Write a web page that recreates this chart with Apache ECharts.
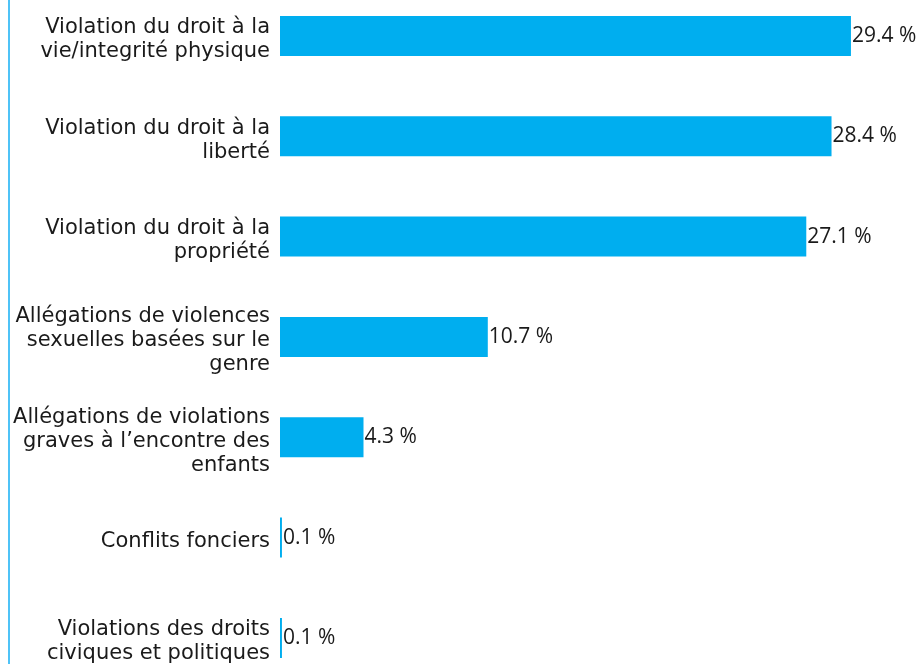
<!DOCTYPE html>
<html>
<head>
<meta charset="utf-8">
<script src="https://cdn.jsdelivr.net/npm/echarts@6/dist/echarts.min.js"></script>
<style>
  html, body { margin: 0; padding: 0; background: #fff; }
  #chart { width: 917px; height: 664px; }
</style>
</head>
<body>
<div id="chart"></div>
<script>
// catégories (retours à la ligne comme dans l'original)
var categories = [
    'Violation du droit à la\nvie/integrité physique',
    'Violation du droit à la\nliberté',
    'Violation du droit à la\npropriété',
    'Allégations de violences\nsexuelles basées sur le\ngenre',
    'Allégations de violations\ngraves à l\u2019encontre des\nenfants',
    'Conflits fonciers',
    'Violations des droits\nciviques et politiques'
];
var values = [29.4, 28.4, 27.1, 10.7, 4.3, 0.1, 0.1];

var myChart = echarts.init(document.getElementById('chart'));

var option = {
    backgroundColor: '#ffffff',
    animation: false,
    grid: {
        left: 280,
        top: -14.2,
        width: 582.6,
        bottom: -24.1,
        containLabel: false,
        outerBoundsMode: 'none'
    },
    // trait vertical à gauche
    graphic: [{
        type: 'line',
        shape: { x1: 9, y1: 0, x2: 9, y2: 664 },
        style: { stroke: '#4fc3f7', lineWidth: 2 }
    }],
    xAxis: {
        type: 'value',
        min: 0,
        max: 30,
        show: false
    },
    yAxis: {
        type: 'category',
        data: categories,
        inverse: true,
        axisLine: { show: false },
        axisTick: { show: false },
        splitLine: { show: false },
        axisLabel: {
            margin: 10,
            color: '#1a1a1a',
            fontFamily: 'DejaVu Sans',
            fontSize: 21,
            lineHeight: 24,
            align: 'right',
            // petite ligne vide en tête pour descendre le texte de quelques px
            formatter: function (value) {
                return '{s|}\n' + value;
            },
            rich: {
                s: { fontSize: 1, lineHeight: 8 }
            }
        }
    },
    series: [{
        type: 'bar',
        data: values,
        barWidth: 40,
        itemStyle: { color: '#00aeef' },
        label: {
            show: true,
            position: 'right',
            distance: 1,
            color: '#1a1a1a',
            fontFamily: 'Open Sans',
            fontSize: 21,
            formatter: function (p) {
                return p.value.toFixed(1) + ' %';
            }
        }
    }]
};
myChart.setOption(option);
</script>
</body>
</html>
